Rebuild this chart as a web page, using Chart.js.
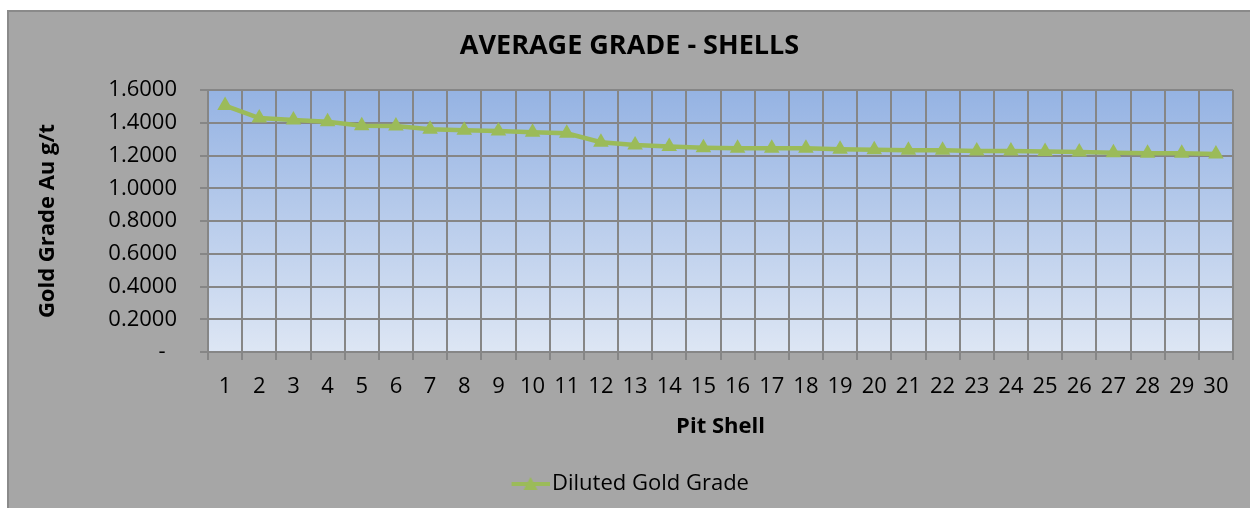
<!DOCTYPE html>
<html>
<head>
<meta charset="utf-8">
<title>Average Grade - Shells</title>
<script src="https://cdn.jsdelivr.net/npm/chart.js@4.4.1/dist/chart.umd.min.js"></script>
<style>
    html, body { margin: 0; padding: 0; background: #ffffff; }
    #frame {
        position: absolute; left: 7px; top: 10px;
        width: 1243px; height: 498px;
        box-sizing: border-box;
        background: #a6a6a6;
        border-left: 2px solid #8a8a8a;
        border-top: 2px solid #8a8a8a;
    }
    canvas { display: block; }
</style>
</head>
<body>
<div id="frame"><canvas id="gradeChart" width="1241" height="496"></canvas></div>
<script>
// Pit shells 1..30 and diluted gold grade (Au g/t)
const pitShells = [1, 2, 3, 4, 5, 6, 7, 8, 9, 10, 11, 12, 13, 14, 15,
                   16, 17, 18, 19, 20, 21, 22, 23, 24, 25, 26, 27, 28, 29, 30];
const dilutedGrade = [1.505, 1.429, 1.417, 1.406, 1.382, 1.380, 1.361, 1.354, 1.350, 1.342,
                      1.336, 1.281, 1.264, 1.255, 1.248, 1.244, 1.244, 1.244, 1.238, 1.235,
                      1.232, 1.232, 1.228, 1.228, 1.224, 1.222, 1.217, 1.213, 1.213, 1.209];
const gradeTicks = [0, 0.2, 0.4, 0.6, 0.8, 1.0, 1.2, 1.4, 1.6];

const lineGreen = '#9bbb59';
const gridGrey = '#868686';
const fontFamily = "'Open Sans', 'DejaVu Sans', sans-serif";

// Legend marker: short line with a triangle, sitting in the right part of the image
function buildLegendMarker() {
    const c = document.createElement('canvas');
    c.width = 48;
    c.height = 16;
    const g = c.getContext('2d');
    g.strokeStyle = lineGreen;
    g.lineWidth = 4;
    g.beginPath();
    g.moveTo(10, 8);
    g.lineTo(48, 8);
    g.stroke();
    g.fillStyle = lineGreen;
    g.beginPath();
    g.moveTo(29, 1);
    g.lineTo(36, 14);
    g.lineTo(22, 14);
    g.closePath();
    g.fill();
    return c;
}
const legendMarker = buildLegendMarker();

// Blue vertical gradient behind the plot area
const plotBackground = {
    id: 'plotBackground',
    beforeDraw(chart) {
        const { ctx, chartArea: a } = chart;
        const grad = ctx.createLinearGradient(0, a.top, 0, a.bottom);
        grad.addColorStop(0, '#95b3e3');
        grad.addColorStop(1, '#dde6f4');
        ctx.save();
        ctx.fillStyle = grad;
        ctx.fillRect(a.left, a.top, a.right - a.left, a.bottom - a.top);
        ctx.restore();
    }
};

const ctx = document.getElementById('gradeChart').getContext('2d');
new Chart(ctx, {
    type: 'line',
    data: {
        labels: pitShells,
        datasets: [{
            label: 'Diluted Gold Grade',
            data: dilutedGrade,
            borderColor: lineGreen,
            backgroundColor: lineGreen,
            borderWidth: 4.5,
            tension: 0,
            pointStyle: 'triangle',
            pointRadius: 9,
            pointBorderWidth: 0,
            pointBackgroundColor: lineGreen
        }]
    },
    options: {
        responsive: false,
        animation: false,
        layout: { padding: { top: 0, left: 0, right: 0, bottom: 3 } },
        plugins: {
            title: {
                display: true,
                text: 'AVERAGE GRADE - SHELLS',
                color: '#000000',
                font: { family: fontFamily, size: 27, weight: 'bold' },
                padding: { top: 18.5, bottom: 27.1 }
            },
            legend: {
                display: true,
                position: 'bottom',
                labels: {
                    color: '#000000',
                    font: { family: fontFamily, size: 22 },
                    usePointStyle: true,
                    pointStyleWidth: 31,
                    padding: 11,
                    generateLabels(chart) {
                        const items = Chart.defaults.plugins.legend.labels.generateLabels(chart);
                        items.forEach(it => { it.pointStyle = legendMarker; });
                        return items;
                    }
                }
            },
            tooltip: { enabled: false }
        },
        scales: {
            x: {
                offset: true,
                grid: { offset: true, color: gridGrey, lineWidth: 2, tickLength: 8, drawTicks: true },
                border: { color: gridGrey, width: 2 },
                ticks: {
                    color: '#000000',
                    font: { family: fontFamily, size: 22 },
                    padding: 14,
                    autoSkip: false,
                    maxRotation: 0
                },
                title: {
                    display: true,
                    text: 'Pit Shell',
                    color: '#000000',
                    font: { family: fontFamily, size: 22, weight: 'bold' },
                    padding: { top: 0, bottom: 22 }
                },
                afterFit(scale) { scale.height = 110; }
            },
            y: {
                min: 0,
                max: 1.6,
                grid: { color: gridGrey, lineWidth: 2, tickLength: 8, drawTicks: true },
                border: { color: gridGrey, width: 2 },
                afterBuildTicks(scale) {
                    scale.ticks = gradeTicks.map(v => ({ value: v }));
                },
                ticks: {
                    color: '#000000',
                    font: { family: fontFamily, size: 22 },
                    padding: 23,
                    callback: v => (Math.abs(v) < 1e-9 ? '-  ' : Number(v).toFixed(4))
                },
                title: {
                    display: true,
                    text: 'Gold Grade Au g/t',
                    color: '#000000',
                    font: { family: fontFamily, size: 22, weight: 'bold' },
                    padding: { top: 26, bottom: 0 }
                },
                afterFit(scale) { scale.width = 199; }
            },
            // empty right-hand margin so the title and legend centre on the whole frame
            rightMargin: {
                type: 'linear',
                position: 'right',
                grid: { display: false },
                border: { display: false },
                ticks: { display: false },
                afterFit(scale) { scale.width = 17; }
            }
        }
    },
    plugins: [plotBackground]
});
</script>
</body>
</html>
